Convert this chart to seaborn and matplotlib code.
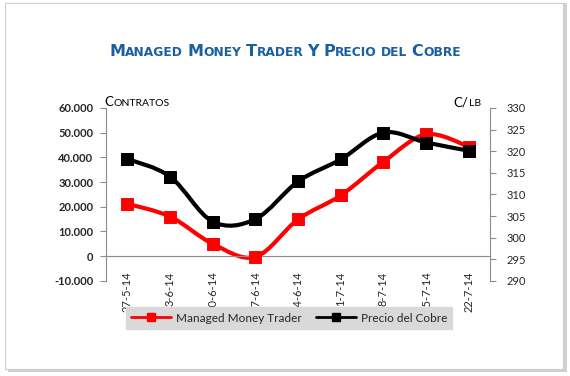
import numpy as np
import pandas as pd
import seaborn as sns
import matplotlib.pyplot as plt
from matplotlib.path import Path
from matplotlib.patches import PathPatch, FancyBboxPatch
from matplotlib.lines import Line2D

fechas = ['27-5-14', '3-6-14', '10-6-14', '17-6-14', '24-6-14',
          '1-7-14', '8-7-14', '15-7-14', '22-7-14']
contratos = [21200, 16000, 5000, -300, 14900, 24600, 38200, 49300, 44300]
precio = [318.2, 314.1, 303.7, 304.3, 313.0, 318.1, 324.3, 322.0, 320.1]

df = pd.DataFrame({'pos': range(len(fechas)), 'fecha': fechas,
                   'contratos': contratos, 'precio': precio})

sns.set_style('white')
plt.rcParams['font.family'] = ['Lato', 'DejaVu Sans']

fig = plt.figure(figsize=(5.7, 3.76), dpi=100)

# card frame with shadow
fig.patches.append(FancyBboxPatch((0.014, 0.01), 0.98, 0.982, boxstyle='square,pad=0',
                                  transform=fig.transFigure, facecolor='#d0d0d0',
                                  edgecolor='none', zorder=-3))
fig.patches.append(FancyBboxPatch((0.008, 0.018), 0.98, 0.975, boxstyle='square,pad=0',
                                  transform=fig.transFigure, facecolor='white',
                                  edgecolor='#cfcfcf', lw=0.8, zorder=-2))

ax = fig.add_axes([0.186, 0.253, 0.674, 0.46])
ax2 = ax.twinx()


def smooth(axis, xs, ys, color):
    # Excel-style smoothed line through the points
    xs = np.asarray(xs, float)
    ys = np.asarray(ys, float)
    px = np.concatenate([[xs[0]], xs, [xs[-1]]])
    py = np.concatenate([[ys[0]], ys, [ys[-1]]])
    verts = [(xs[0], ys[0])]
    codes = [Path.MOVETO]
    for i in range(1, len(px) - 2):
        c1 = (px[i] + (px[i + 1] - px[i - 1]) / 6, py[i] + (py[i + 1] - py[i - 1]) / 6)
        c2 = (px[i + 1] - (px[i + 2] - px[i]) / 6, py[i + 1] - (py[i + 2] - py[i]) / 6)
        verts += [c1, c2, (px[i + 1], py[i + 1])]
        codes += [Path.CURVE4] * 3
    axis.add_patch(PathPatch(Path(verts, codes), facecolor='none', edgecolor=color,
                             lw=3, capstyle='round', joinstyle='round', zorder=2))


smooth(ax, df['pos'], df['contratos'], '#ff0000')
sns.scatterplot(data=df, x='pos', y='contratos', ax=ax, marker='s', s=70,
                color='#ff0000', edgecolor='#ff0000', zorder=3)
smooth(ax2, df['pos'], df['precio'], 'black')
sns.scatterplot(data=df, x='pos', y='precio', ax=ax2, marker='s', s=80,
                color='black', edgecolor='black', zorder=3)

# spines first (moving a spine resets the ticks)
for s in ['top', 'right']:
    ax.spines[s].set_visible(False)
for s in ['top', 'left', 'bottom']:
    ax2.spines[s].set_visible(False)
ax.spines['bottom'].set_position(('data', 0))
for sp in [ax.spines['bottom'], ax.spines['left'], ax2.spines['right']]:
    sp.set_color('#8c8c8c')
    sp.set_linewidth(0.8)

ax.set_xlim(-0.5, len(fechas) - 0.5)
ax.set_ylim(-10000, 60000)
ax2.set_ylim(290, 330)
ax.set_yticks(range(-10000, 60001, 10000))
ax.set_yticklabels([f'{v:,}'.replace(',', '.') for v in range(-10000, 60001, 10000)],
                   fontsize=8, fontweight='bold', color='#262626')
ax2.set_yticks(range(290, 331, 5))
ax2.set_yticklabels([str(v) for v in range(290, 331, 5)], fontsize=8, color='#262626')
ax.set_xlabel('')
ax.set_ylabel('')
ax2.set_xlabel('')
ax2.set_ylabel('')

ax.set_xticks(df['pos'])
ax.set_xticklabels(fechas, rotation=90, fontsize=8, color='#262626')
ax.set_xticks(np.arange(-0.5, len(fechas)), minor=True)
ax.tick_params(axis='x', which='major', length=0, pad=11)
ax.tick_params(axis='x', which='minor', length=4, color='#8c8c8c', width=0.8, direction='out')
ax.tick_params(axis='y', length=4, color='#8c8c8c', width=0.8, direction='out', pad=5)
ax2.tick_params(axis='y', length=4, color='#8c8c8c', width=0.8, direction='out', pad=8)


def small_caps(x, y, text, big, small, color, weight='normal', ha='left', family=None):
    # draw text in small caps by chaining pieces
    pieces = []
    for word_i, word in enumerate(text.split(' ')):
        if word_i > 0:
            pieces.append((' ', small))
        if word[0].isupper():
            pieces.append((word[0], big))
            if word[1:]:
                pieces.append((word[1:].upper(), small))
        else:
            pieces.append((word.upper(), small))
    kw = dict(color=color, fontweight=weight)
    if family:
        kw['family'] = family
    arts = []
    prev = None
    for chunk, size in pieces:
        if prev is None:
            t = fig.text(x, y, chunk, fontsize=size, ha='left', va='baseline', **kw)
        else:
            t = ax2.annotate(chunk, xy=(1, 0), xycoords=prev, fontsize=size,
                             ha='left', va='bottom', annotation_clip=False, **kw)
        arts.append(t)
        prev = t
    if ha == 'center':
        fig.canvas.draw()
        x0 = arts[0].get_window_extent().x0
        x1 = arts[-1].get_window_extent().x1
        shift = (x1 - x0) / 2 / fig.bbox.width
        arts[0].set_x(x - shift)
    return arts


small_caps(0.5, 0.852, 'Managed Money Trader Y Precio del Cobre', 11.5, 8.8,
           '#1a5fa0', weight='bold', ha='center', family=['DejaVu Sans'])
small_caps(0.183, 0.718, 'Contratos', 9.5, 7.5, 'black')
fig.text(0.795, 0.718, 'C/', fontsize=9.5, color='black')
fig.text(0.823, 0.718, 'LB', fontsize=7.5, color='black')

handles = [
    Line2D([], [], color='#ff0000', lw=2, marker='s', markersize=6, label='Managed Money Trader'),
    Line2D([], [], color='black', lw=2, marker='s', markersize=6, label='Precio del Cobre'),
]
leg = fig.legend(handles=handles, loc='center', bbox_to_anchor=(0.507, 0.154), ncol=2,
                 fontsize=8.5, frameon=True, fancybox=False, facecolor='#d9d9d9',
                 edgecolor='#d9d9d9', framealpha=1, handlelength=3.4, columnspacing=1.2,
                 borderpad=0.45, handletextpad=0.4)
leg.set_zorder(10)

plt.savefig('out.png', dpi=100)
plt.close()
